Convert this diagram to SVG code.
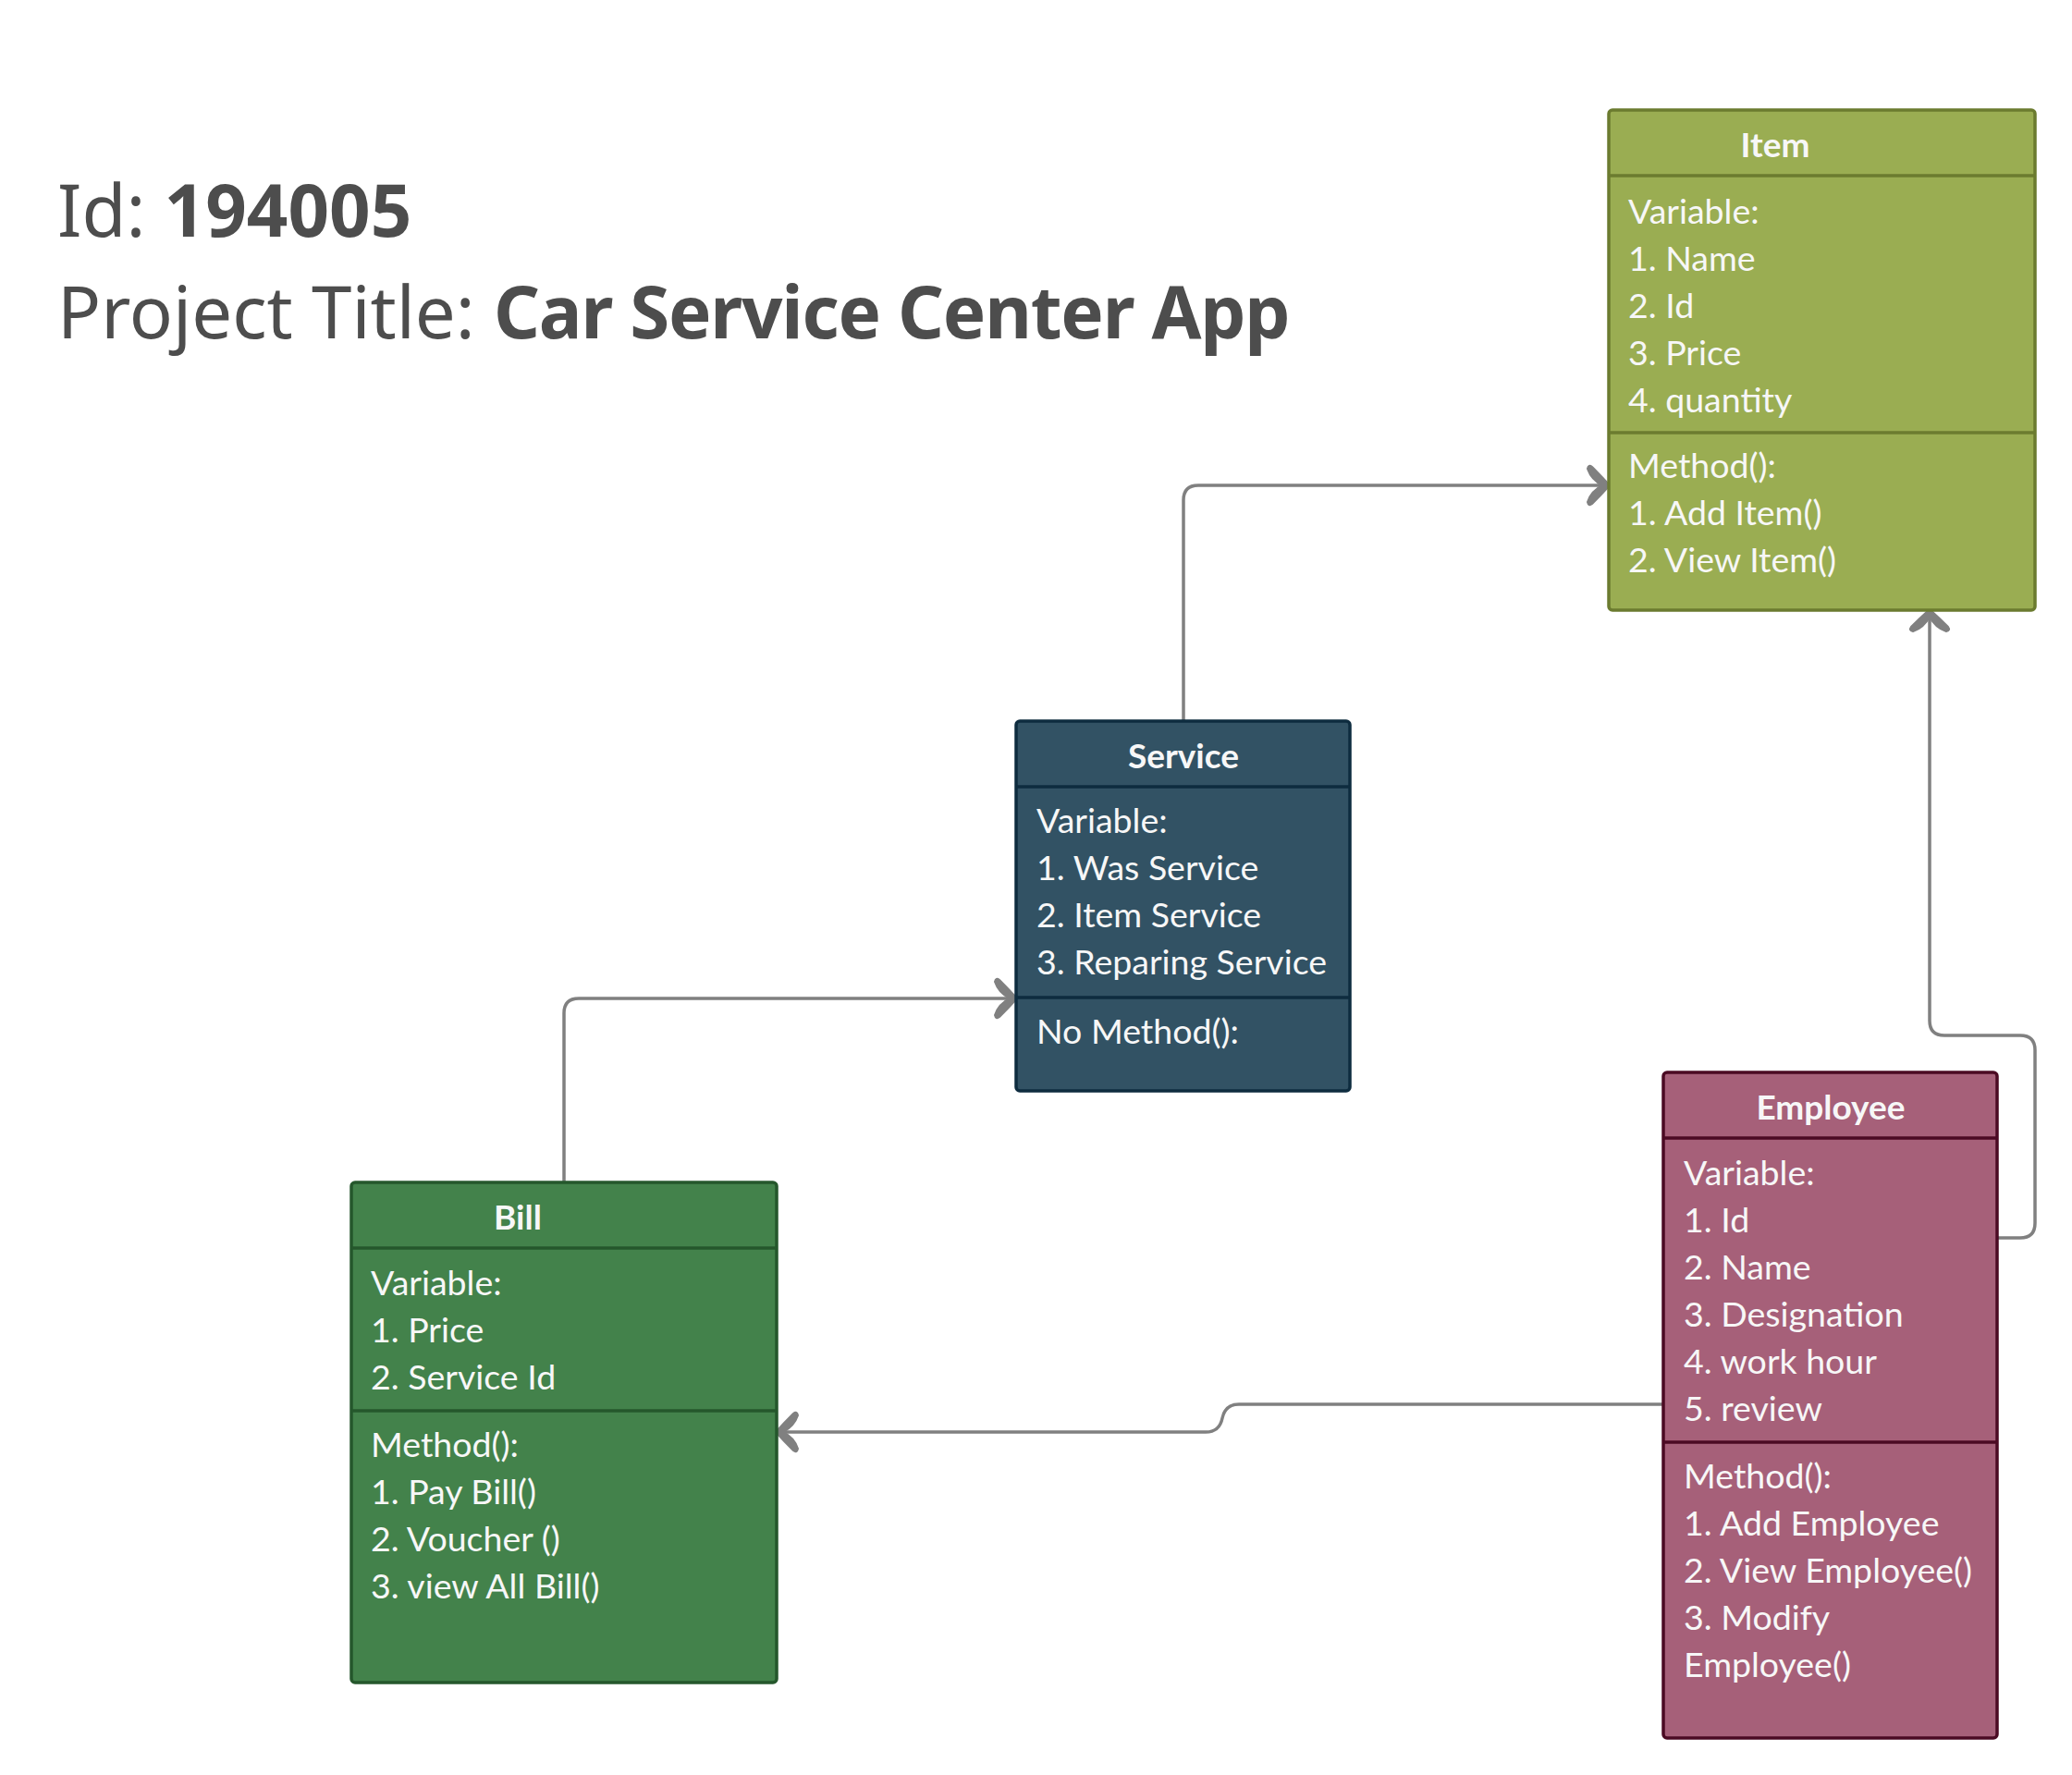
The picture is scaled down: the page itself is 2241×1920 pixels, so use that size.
<svg xmlns="http://www.w3.org/2000/svg" width="2241" height="1920" viewBox="0 0 2241 1920">
<style>
.hdr{font-family:"Noto Sans","Open Sans","Liberation Sans",sans-serif;font-size:78px;fill:#4d4d4d}
.b{font-weight:bold}
.bt{font-weight:bold;letter-spacing:-1.2px}
.t{font-family:Lato,"Liberation Sans",sans-serif;font-size:37px;font-weight:bold;fill:#f7f7f7;text-anchor:middle}
.x{font-family:Lato,"Liberation Sans",sans-serif;font-size:37.5px;fill:#f7f7f7}
.con{fill:none;stroke:#808080;stroke-width:3.5}
.item{fill:#9aad52;stroke:#6b7b2f;stroke-width:3.5}
.item-l{stroke:#6b7b2f;stroke-width:3.5}
.svc{fill:#325264;stroke:#0e2c3f;stroke-width:3.5}
.svc-l{stroke:#0e2c3f;stroke-width:3.5}
.bill{fill:#43824b;stroke:#25572c;stroke-width:3.5}
.bill-l{stroke:#25572c;stroke-width:3.5}
.emp{fill:#a66079;stroke:#4b0a23;stroke-width:3.5}
.emp-l{stroke:#4b0a23;stroke-width:3.5}
</style>
<defs>
<marker id="arr" markerUnits="userSpaceOnUse" viewBox="-28 -26 32 52" refX="-8" refY="0" markerWidth="32" markerHeight="52" orient="auto">
<path d="M1,0 Q-8,-10 -18,-20 Q-22,-23 -23,-18 Q-19,-6 -7,0 Q-19,6 -23,18 Q-22,23 -18,20 Q-8,10 1,0 Z" fill="#808080" stroke="#808080" stroke-width="2" stroke-linejoin="round"/>
</marker>
</defs>
<rect width="2241" height="1920" fill="#ffffff"/>
<g id="title">
<text class="hdr" x="62" y="256">Id: <tspan class="b">194005</tspan></text>
<text class="hdr" x="62" y="366">Project Title: <tspan class="bt">Car Service Center App</tspan></text>
</g>
<g id="connectors">
<path class="con" d="M1280,780 V541 Q1280,525 1296,525 H1732" marker-end="url(#arr)"/>
<path class="con" d="M610,1279 V1096 Q610,1080 626,1080 H1091" marker-end="url(#arr)"/>
<path class="con" d="M2160,1339 H2185 Q2201,1339 2201,1323 V1136 Q2201,1120 2185,1120 H2103 Q2087,1120 2087,1104 V668" marker-end="url(#arr)"/>
<path class="con" d="M1799,1519 H1340 Q1325,1519 1322,1534 Q1319,1549 1304,1549 H848" marker-end="url(#arr)"/>
</g>
<g id="item">
<rect class="item" x="1740" y="119" width="461" height="541" rx="4"/>
<line class="item-l" x1="1740" y1="190" x2="2201" y2="190"/>
<line class="item-l" x1="1740" y1="468" x2="2201" y2="468"/>
<text class="t" x="1920" y="170">Item</text>
<text class="x" x="1761" y="242">Variable:</text>
<text class="x" x="1761" y="293">1. Name</text>
<text class="x" x="1761" y="344">2. Id</text>
<text class="x" x="1761" y="395">3. Price</text>
<text class="x" x="1761" y="446">4. quantity</text>
<text class="x" x="1761" y="517">Method():</text>
<text class="x" x="1761" y="568">1. Add Item()</text>
<text class="x" x="1761" y="619">2. View Item()</text>
</g>
<g id="service">
<rect class="svc" x="1099" y="780" width="361" height="400" rx="4"/>
<line class="svc-l" x1="1099" y1="851" x2="1460" y2="851"/>
<line class="svc-l" x1="1099" y1="1079" x2="1460" y2="1079"/>
<text class="t" x="1280" y="831">Service</text>
<text class="x" x="1121" y="901">Variable:</text>
<text class="x" x="1121" y="952">1. Was Service</text>
<text class="x" x="1121" y="1003">2. Item Service</text>
<text class="x" x="1121" y="1054">3. Reparing Service</text>
<text class="x" x="1121" y="1129">No Method():</text>
</g>
<g id="bill">
<rect class="bill" x="380" y="1279" width="460" height="541" rx="4"/>
<line class="bill-l" x1="380" y1="1350" x2="840" y2="1350"/>
<line class="bill-l" x1="380" y1="1526" x2="840" y2="1526"/>
<text class="t" x="560" y="1330">Bill</text>
<text class="x" x="401" y="1401">Variable:</text>
<text class="x" x="401" y="1452">1. Price</text>
<text class="x" x="401" y="1503">2. Service Id</text>
<text class="x" x="401" y="1576">Method():</text>
<text class="x" x="401" y="1627">1. Pay Bill()</text>
<text class="x" x="401" y="1678">2. Voucher ()</text>
<text class="x" x="401" y="1729">3. view All Bill()</text>
</g>
<g id="employee">
<rect class="emp" x="1799" y="1160" width="361" height="720" rx="4"/>
<line class="emp-l" x1="1799" y1="1231" x2="2160" y2="1231"/>
<line class="emp-l" x1="1799" y1="1560" x2="2160" y2="1560"/>
<text class="t" x="1980" y="1211">Employee</text>
<text class="x" x="1821" y="1282">Variable:</text>
<text class="x" x="1821" y="1333">1. Id</text>
<text class="x" x="1821" y="1384">2. Name</text>
<text class="x" x="1821" y="1435">3. Designation</text>
<text class="x" x="1821" y="1486">4. work hour</text>
<text class="x" x="1821" y="1537">5. review</text>
<text class="x" x="1821" y="1610">Method():</text>
<text class="x" x="1821" y="1661">1. Add Employee</text>
<text class="x" x="1821" y="1712">2. View Employee()</text>
<text class="x" x="1821" y="1763">3. Modify</text>
<text class="x" x="1821" y="1814">Employee()</text>
</g>
</svg>
